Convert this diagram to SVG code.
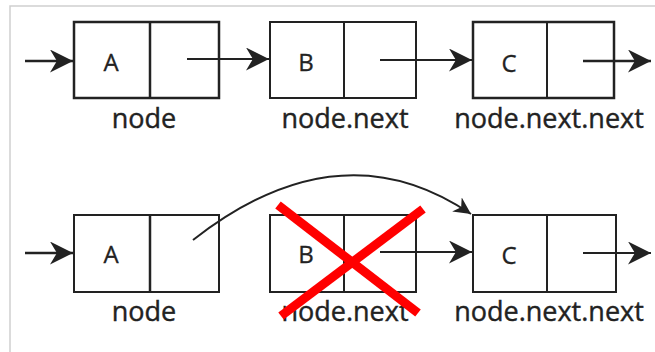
<svg xmlns="http://www.w3.org/2000/svg" width="655" height="352" viewBox="0 0 655 352">
<defs>
<marker id="ah" viewBox="0 0 10 10" refX="10" refY="5" markerWidth="23" markerHeight="23" markerUnits="userSpaceOnUse" orient="auto">
<path d="M0,0 L10,5 L0,10 L3,5 Z" fill="#222"/>
</marker>
<marker id="ahs" viewBox="0 0 10 10" refX="10" refY="5" markerWidth="17" markerHeight="17" markerUnits="userSpaceOnUse" orient="auto">
<path d="M0,0 L10,5 L0,10 L3,5 Z" fill="#222"/>
</marker>
<style>
.box{fill:#fff;stroke:#222;stroke-width:2.5}
.box2{fill:#fff;stroke:#222;stroke-width:2}
.div{stroke:#222;stroke-width:2.5}
.div2{stroke:#222;stroke-width:2}
.lbl{font-family:"Open Sans","DejaVu Sans",sans-serif;font-size:27px;fill:#222;stroke:#222;stroke-width:0.4;text-anchor:middle}
.val{font-family:"Open Sans","DejaVu Sans",sans-serif;font-size:24px;fill:#222;stroke:#222;stroke-width:0.3;text-anchor:middle}
.ar{stroke:#222;stroke-width:2.5;fill:none}
.ar2{stroke:#222;stroke-width:2;fill:none}
.x{stroke:#ff0000;stroke-width:9;stroke-linecap:butt}
</style>
</defs>
<rect width="655" height="352" fill="#fff"/>
<path d="M10,352 L10,6 L655,6" fill="none" stroke="#cfcfcf" stroke-width="1.5"/>

<g id="row1-A">
<rect class="box" x="74" y="22" width="145" height="76"/>
<line class="div" x1="150" y1="22" x2="150" y2="98"/>
<text class="val" x="111" y="71">A</text>
<text class="lbl" x="144" y="128">node</text>
</g>
<g id="row1-B">
<rect class="box2" x="270" y="22" width="146" height="76"/>
<line class="div2" x1="344" y1="22" x2="344" y2="98"/>
<text class="val" x="306" y="71">B</text>
<text class="lbl" x="345" y="128">node.next</text>
</g>
<g id="row1-C">
<rect class="box" x="473" y="22" width="141" height="76"/>
<line class="div2" x1="547" y1="22" x2="547" y2="98"/>
<text class="val" x="509" y="72">C</text>
<text class="lbl" x="549" y="128">node.next.next</text>
</g>

<g id="row2-A">
<rect class="box2" x="74" y="215" width="145" height="77"/>
<line class="div" x1="150" y1="215" x2="150" y2="292"/>
<text class="val" x="111" y="263">A</text>
<text class="lbl" x="144" y="321">node</text>
</g>
<g id="row2-B">
<rect class="box2" x="270" y="215" width="146" height="77"/>
<line class="div2" x1="344" y1="215" x2="344" y2="292"/>
<text class="val" x="306" y="263">B</text>
<text class="lbl" x="345" y="321">node.next</text>
</g>
<g id="row2-C">
<rect class="box2" x="473" y="215" width="143" height="77"/>
<line class="div2" x1="547" y1="215" x2="547" y2="292"/>
<text class="val" x="509" y="264">C</text>
<text class="lbl" x="549" y="321">node.next.next</text>
</g>

<g id="connectors">
<line class="ar" x1="25" y1="61" x2="73" y2="61" marker-end="url(#ah)"/>
<line class="ar2" x1="187" y1="59" x2="269" y2="59" marker-end="url(#ah)"/>
<line class="ar2" x1="380" y1="60" x2="472" y2="60" marker-end="url(#ah)"/>
<line class="ar" x1="583" y1="61" x2="651" y2="61" marker-end="url(#ah)"/>
<line class="ar" x1="25" y1="253" x2="73" y2="253" marker-end="url(#ah)"/>
<path class="ar2" d="M193,240 Q340,125 471,214" marker-end="url(#ahs)"/>
<line class="ar2" x1="380" y1="252" x2="472" y2="252" marker-end="url(#ah)"/>
<line class="ar2" x1="583" y1="253" x2="651" y2="253" marker-end="url(#ah)"/>
</g>

<g id="cross">
<line class="x" x1="278" y1="205" x2="418" y2="313"/>
<line class="x" x1="423" y1="209" x2="281" y2="316"/>
</g>
</svg>
